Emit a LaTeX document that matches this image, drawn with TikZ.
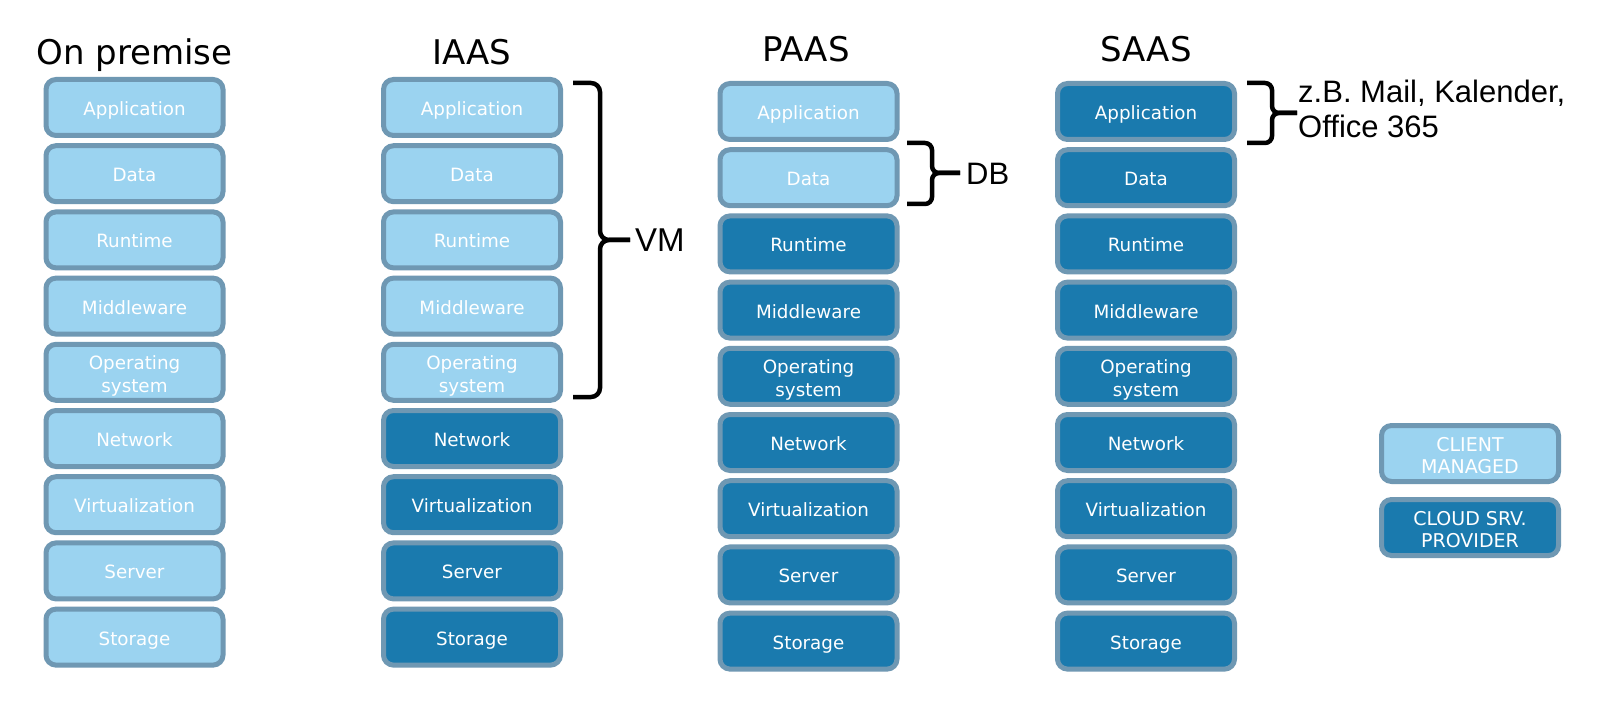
\documentclass[tikz,border=0pt]{standalone}
\usepackage{fontspec}
\setmainfont{DejaVu Sans}
\newfontfamily\arialf{Liberation Sans}
\definecolor{lightfill}{RGB}{155,211,240}
\definecolor{darkfill}{RGB}{26,122,174}
\definecolor{boxborder}{RGB}{111,152,179}
\tikzset{
  layer/.style={rounded corners=10pt, draw=boxborder, line width=5pt,
    minimum width=177pt, minimum height=56pt, inner sep=0pt, align=center,
    text=white, font=\fontsize{18.3}{23}\selectfont,
    execute at begin node={\rule[-4.6pt]{0pt}{25pt}}},
  client/.style={layer, fill=lightfill},
  cloud/.style={layer, fill=darkfill},
  legendbox/.style={font=\fontsize{19}{22}\selectfont},
  coltitle/.style={font=\fontsize{34}{40}\selectfont, anchor=base, inner sep=0pt},
  brace/.style={line width=4.5pt, rounded corners=9pt},
  smallbrace/.style={line width=4.5pt, rounded corners=7pt},
  note/.style={font=\arialf\fontsize{31}{35}\selectfont, anchor=west, align=left, inner sep=0pt}
}
\newcommand{\firstlinestrut}[1]{\rule{0pt}{#1}}
\begin{document}
\begin{tikzpicture}[x=1pt, y=-1pt]
\fill[white] (0,0) rectangle (1620,714);
\useasboundingbox (0,0) rectangle (1620,714);

% column titles
\node[coltitle] (t1) at (134.5,65) {On premise};
\node[coltitle] (t2) at (472,65) {IAAS};
\node[coltitle] (t3) at (806,62) {PAAS};
\node[coltitle] (t4) at (1146,62) {SAAS};

% stacks
\foreach \t [count=\i] in {Application, Data, Runtime, Middleware, {\firstlinestrut{21pt}Operating\\system}, Network, Virtualization, Server, Storage}{
  \pgfmathsetmacro\ya{107.5+66.2*(\i-1)}
  \pgfmathsetmacro\yb{111.5+66.2*(\i-1)}
  \node[client] (op\i) at (134.5,\ya) {\t};
  \ifnum\i<6
    \node[client] (ia\i) at (472,\ya) {\t};
  \else
    \node[cloud] (ia\i) at (472,\ya) {\t};
  \fi
  \ifnum\i<3
    \node[client] (pa\i) at (808.5,\yb) {\t};
  \else
    \node[cloud] (pa\i) at (808.5,\yb) {\t};
  \fi
  \node[cloud] (sa\i) at (1146,\yb) {\t};
}

% legend
\node[client, legendbox] (lg1) at (1470,453.5) {\firstlinestrut{22pt}CLIENT\\MANAGED};
\node[cloud, legendbox] (lg2) at (1470,527.5) {\firstlinestrut{22pt}CLOUD SRV.\\PROVIDER};

% brace VM
\coordinate (vmA) at (573,83);
\coordinate (vmB) at (600,83);
\coordinate (vmC) at (600,240);
\coordinate (vmD) at (630,240);
\coordinate (vmE) at (600,397);
\coordinate (vmF) at (573,397);
\draw[brace] (vmA) -- (vmB) -- (vmC) -- (vmD);
\draw[brace] (vmF) -- (vmE) -- (vmC) -- (vmD);
\node[note, font=\arialf\fontsize{33}{36}\selectfont] (vm) at (635,240) {VM};

% brace DB
\coordinate (dbA) at (907,143);
\coordinate (dbB) at (932,143);
\coordinate (dbC) at (932,173);
\coordinate (dbD) at (960,173);
\coordinate (dbE) at (932,204);
\coordinate (dbF) at (907,204);
\draw[smallbrace] (dbA) -- (dbB) -- (dbC) -- (dbD);
\draw[smallbrace] (dbF) -- (dbE) -- (dbC) -- (dbD);
\node[note] (db) at (966,174) {DB};

% brace SAAS
\coordinate (saA) at (1247,83);
\coordinate (saB) at (1272,83);
\coordinate (saC) at (1272,113);
\coordinate (saD) at (1297,113);
\coordinate (saE) at (1272,143);
\coordinate (saF) at (1247,143);
\draw[smallbrace] (saA) -- (saB) -- (saC) -- (saD);
\draw[smallbrace] (saF) -- (saE) -- (saC) -- (saD);
\node[note] (mail) at (1298,109) {z.B. Mail, Kalender,\\Office 365};
\end{tikzpicture}
\end{document}
